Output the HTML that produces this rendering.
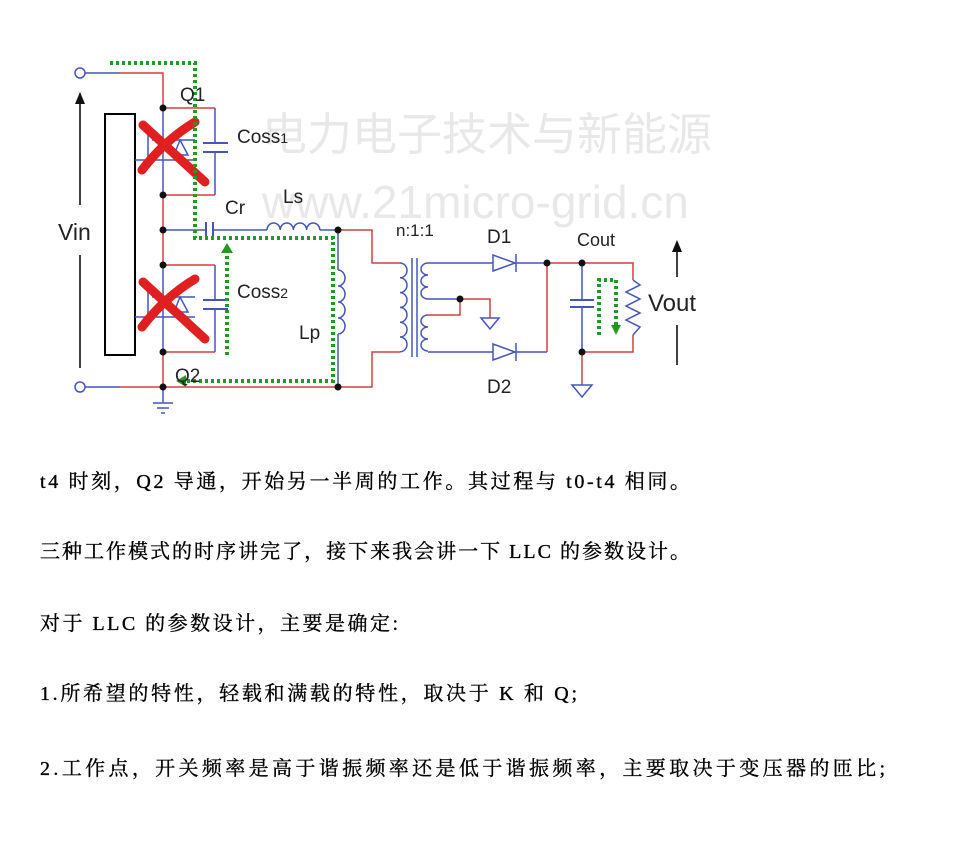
<!DOCTYPE html>
<html><head><meta charset="utf-8"><style>
html,body{margin:0;padding:0;background:#fff;width:975px;height:853px;overflow:hidden}
svg{display:block}
</style></head><body>
<svg width="975" height="853" viewBox="0 0 975 853" xmlns="http://www.w3.org/2000/svg">
<!-- watermark -->
<text x="262" y="150" font-family="'Noto Sans CJK SC',sans-serif" font-size="45" fill="#e8e8e8">电力电子技术与新能源</text>
<text x="262" y="218" font-family="'Liberation Sans',sans-serif" font-size="46" fill="#e8e8e8">www.21micro-grid.cn</text>

<g fill="none" stroke-width="1.5">
<circle cx="80" cy="73" r="5" stroke="#4455bb"/>
<circle cx="80" cy="387" r="5" stroke="#4455bb"/>
<line x1="85" y1="73" x2="120" y2="73" stroke="#4455bb"/>
<polyline points="120,73 163,73 163,108" stroke="#d04040"/>
<line x1="85" y1="387" x2="120" y2="387" stroke="#4455bb"/>
<line x1="120" y1="387" x2="338" y2="387" stroke="#d04040"/>
<line x1="80" y1="100" x2="80" y2="205" stroke="#000"/>
<line x1="80" y1="255" x2="80" y2="368" stroke="#000"/>
<rect x="105" y="114" width="30" height="241" stroke="#000" stroke-width="2"/>
<line x1="163" y1="108" x2="163" y2="195" stroke="#4455bb"/>
<line x1="163" y1="195" x2="163" y2="265" stroke="#d04040"/>
<line x1="163" y1="265" x2="163" y2="352" stroke="#4455bb"/>
<line x1="163" y1="352" x2="163" y2="387" stroke="#d04040"/>
<line x1="163" y1="387" x2="163" y2="403" stroke="#4455bb"/>
<line x1="153" y1="403" x2="173" y2="403" stroke="#4455bb"/>
<line x1="157" y1="408" x2="169" y2="408" stroke="#4455bb"/>
<line x1="161" y1="413" x2="165" y2="413" stroke="#4455bb"/>
<line x1="163" y1="108" x2="215" y2="108" stroke="#d04040"/>
<line x1="163" y1="195" x2="215" y2="195" stroke="#d04040"/>
<line x1="215" y1="108" x2="215" y2="143" stroke="#4455bb"/>
<line x1="215" y1="152" x2="215" y2="195" stroke="#4455bb"/>
<line x1="203" y1="143" x2="228" y2="143" stroke="#4455bb" stroke-width="2"/>
<line x1="203" y1="152" x2="228" y2="152" stroke="#4455bb" stroke-width="2"/>
<line x1="135" y1="160" x2="148" y2="160" stroke="#4455bb"/>
<path d="M148,135 V165 M152,140 H195 M152,160 H195 M180,140 L188,155 H174 Z" stroke="#4455bb"/>
<line x1="163" y1="265" x2="215" y2="265" stroke="#d04040"/>
<line x1="163" y1="352" x2="215" y2="352" stroke="#d04040"/>
<line x1="215" y1="265" x2="215" y2="300" stroke="#4455bb"/>
<line x1="215" y1="309" x2="215" y2="352" stroke="#4455bb"/>
<line x1="203" y1="300" x2="228" y2="300" stroke="#4455bb" stroke-width="2"/>
<line x1="203" y1="309" x2="228" y2="309" stroke="#4455bb" stroke-width="2"/>
<line x1="135" y1="317" x2="148" y2="317" stroke="#4455bb"/>
<path d="M148,292 V322 M152,297 H195 M152,317 H195 M180,297 L188,312 H174 Z" stroke="#4455bb"/>
<line x1="163" y1="230" x2="205" y2="230" stroke="#4455bb"/>
<line x1="206" y1="222" x2="206" y2="238" stroke="#4455bb" stroke-width="2"/>
<line x1="213" y1="222" x2="213" y2="238" stroke="#4455bb" stroke-width="2"/>
<line x1="213" y1="230" x2="267" y2="230" stroke="#4455bb"/>
<path d="M267,230 a6.6,7 0 0 1 13.2,0 a6.6,7 0 0 1 13.2,0 a6.6,7 0 0 1 13.2,0 a6.6,7 0 0 1 13.2,0" stroke="#4455bb"/>
<line x1="320" y1="230" x2="338" y2="230" stroke="#4455bb"/>
<line x1="338" y1="230" x2="338" y2="270" stroke="#4455bb"/>
<path d="M338,270 a7,8 0 0 1 0,16 a7,8 0 0 1 0,16 a7,8 0 0 1 0,16 a7,8 0 0 1 0,16" stroke="#4455bb"/>
<line x1="338" y1="334" x2="338" y2="387" stroke="#4455bb"/>
<polyline points="338,230 372,230 372,263 400,263" stroke="#d04040"/>
<polyline points="338,387 372,387 372,352 400,352" stroke="#d04040"/>
<path d="M400,263 a7,7.4 0 0 1 0,14.8 a7,7.4 0 0 1 0,14.8 a7,7.4 0 0 1 0,14.8 a7,7.4 0 0 1 0,14.8 a7,7.4 0 0 1 0,14.8 a7,7.4 0 0 1 0,14.8" stroke="#4455bb"/>
<line x1="412" y1="258" x2="412" y2="357" stroke="#4455bb"/>
<line x1="417" y1="258" x2="417" y2="357" stroke="#4455bb"/>
<path d="M428,263 a7,6 0 0 0 0,12 a7,6 0 0 0 0,12 a7,6 0 0 0 0,12" stroke="#4455bb"/>
<path d="M428,315 a7,6 0 0 0 0,12 a7,6 0 0 0 0,12 a7,6 0 0 0 0,12" stroke="#4455bb"/>
<line x1="428" y1="263" x2="493" y2="263" stroke="#4455bb"/>
<line x1="428" y1="352" x2="493" y2="352" stroke="#4455bb"/>
<polyline points="428,299 460,299" stroke="#4455bb"/>
<polyline points="428,315 460,315 460,299" stroke="#d04040"/>
<polyline points="460,299 490,299 490,318" stroke="#d04040"/>
<path d="M481,318 H499 L490,329 Z" stroke="#4455bb"/>
<path d="M493,255 V271 L515,263 Z M516,254 V272" stroke="#4455bb"/>
<path d="M493,344 V360 L515,352 Z M516,343 V361" stroke="#4455bb"/>
<line x1="516" y1="263" x2="547" y2="263" stroke="#4455bb"/>
<line x1="516" y1="352" x2="547" y2="352" stroke="#4455bb"/>
<line x1="547" y1="263" x2="547" y2="352" stroke="#d04040"/>
<polyline points="547,263 633,263 633,280" stroke="#d04040"/>
<line x1="582" y1="263" x2="582" y2="300" stroke="#4455bb"/>
<line x1="570" y1="300" x2="594" y2="300" stroke="#4455bb" stroke-width="2"/>
<line x1="570" y1="307" x2="594" y2="307" stroke="#4455bb" stroke-width="2"/>
<line x1="582" y1="307" x2="582" y2="352" stroke="#4455bb"/>
<polyline points="582,352 633,352 633,335" stroke="#d04040"/>
<line x1="582" y1="352" x2="582" y2="385" stroke="#d04040"/>
<path d="M572,385 H592 L582,397 Z" stroke="#4455bb"/>
<polyline points="633,280 640,285 626,292 640,299 626,306 640,313 626,320 640,327 633,335" stroke="#4455bb"/>
<line x1="677" y1="250" x2="677" y2="277" stroke="#000"/>
<line x1="677" y1="325" x2="677" y2="365" stroke="#000"/>
<path d="M143,125 Q170,150 205,182" stroke="#e02020" stroke-width="9" stroke-linecap="round"/>
<path d="M195,122 Q165,140 142,170" stroke="#e02020" stroke-width="9" stroke-linecap="round"/>
<path d="M143,282 Q170,307 205,339" stroke="#e02020" stroke-width="9" stroke-linecap="round"/>
<path d="M195,279 Q165,297 142,327" stroke="#e02020" stroke-width="9" stroke-linecap="round"/>
<g stroke="#229922" stroke-width="4" stroke-dasharray="3,3">
<polyline points="110,63 195,63 195,238 333,238 333,381 182,381"/>
<polyline points="227,355 227,250"/>
<polyline points="599,335 599,280 616,280 616,327"/>
</g>
</g>
<g fill="#111">
<circle cx="163" cy="108" r="3.5"/><circle cx="163" cy="195" r="3.5"/><circle cx="163" cy="230" r="3.5"/>
<circle cx="163" cy="265" r="3.5"/><circle cx="163" cy="352" r="3.5"/><circle cx="163" cy="387" r="3.5"/>
<circle cx="338" cy="230" r="3.5"/><circle cx="338" cy="387" r="3.5"/><circle cx="460" cy="299" r="3.5"/>
<circle cx="547" cy="263" r="3.5"/><circle cx="582" cy="263" r="3.5"/><circle cx="582" cy="352" r="3.5"/>
<path d="M80,92 L75,104 H85 Z"/><path d="M677,240 L672,252 H682 Z"/>
</g>
<g fill="#229922">
<path d="M176,381 L186,375 V387 Z"/><path d="M227,243 L221,253 H233 Z"/><path d="M616,335 L611,325 H621 Z"/>
</g>
<g font-family="'Liberation Sans',sans-serif" fill="#222">
<text x="180" y="101" font-size="19">Q1</text>
<text x="237" y="143" font-size="19">Coss<tspan font-size="14">1</tspan></text>
<text x="225" y="214" font-size="19">Cr</text>
<text x="283" y="203" font-size="19">Ls</text>
<text x="237" y="298" font-size="19">Coss<tspan font-size="14">2</tspan></text>
<text x="299" y="339" font-size="19">Lp</text>
<text x="175" y="382" font-size="19">Q2</text>
<text x="58" y="240" font-size="23">Vin</text>
<text x="396" y="236" font-size="17">n:1:1</text>
<text x="487" y="243" font-size="19">D1</text>
<text x="577" y="246" font-size="18">Cout</text>
<text x="487" y="393" font-size="19">D2</text>
<text x="648" y="311" font-size="24">Vout</text>
</g>
<g font-family="'Liberation Serif','Noto Serif CJK SC',serif" font-size="20" fill="#000" stroke="#000" stroke-width="0.35">
<text x="40" y="488" textLength="650" lengthAdjust="spacing">t4 时刻，Q2 导通，开始另一半周的工作。其过程与 t0-t4 相同。</text>
<text x="40" y="558" textLength="650" lengthAdjust="spacing">三种工作模式的时序讲完了，接下来我会讲一下 LLC 的参数设计。</text>
<text x="40" y="630" textLength="358" lengthAdjust="spacing">对于 LLC 的参数设计，主要是确定:</text>
<text x="40" y="700" textLength="537" lengthAdjust="spacing">1.所希望的特性，轻载和满载的特性，取决于 K 和 Q;</text>
<text x="40" y="775" textLength="845" lengthAdjust="spacing">2.工作点，开关频率是高于谐振频率还是低于谐振频率，主要取决于变压器的匝比;</text>
</g>
</svg>
</body></html>
